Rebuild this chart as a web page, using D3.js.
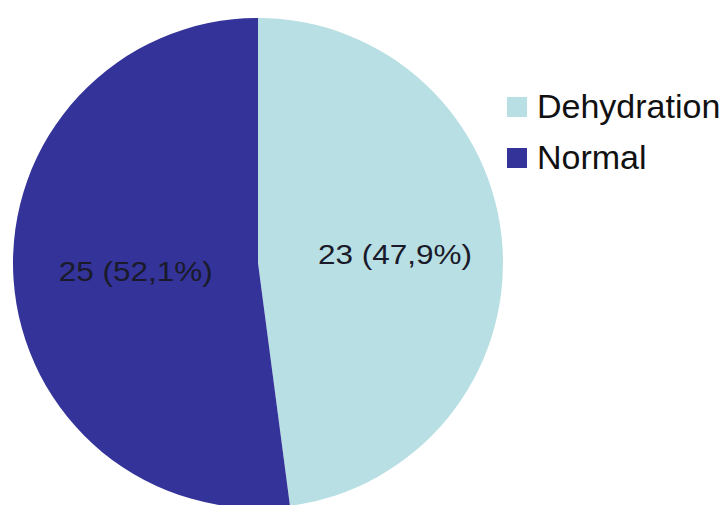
<!DOCTYPE html>
<html><head><meta charset="utf-8">
<script src="https://cdn.jsdelivr.net/npm/d3@7"></script>
<style>body{margin:0;background:#fff;}svg{display:block;}</style>
</head><body>
<svg id="c" width="728" height="505"></svg>
<script>
const categories = ["Dehydration", "Normal"];
const values = [23, 25];
const labels = ["23 (47,9%)", "25 (52,1%)"];
const colors = ["#B8DFE3", "#333399"];

const svg = d3.select("#c");
const cx = 258, cy = 263, r = 245;
const pie = d3.pie().sort(null).value(d => d)(values);
const arc = d3.arc().innerRadius(0).outerRadius(r);
const g = svg.append("g").attr("transform", `translate(${cx},${cy})`);
g.selectAll("path").data(pie).join("path")
  .attr("d", arc).attr("fill", (d, i) => colors[i]);

const labelRad = [0.56, 0.5];
g.selectAll("text").data(pie).join("text")
  .attr("transform", (d, i) => {
    const a = d3.arc().innerRadius(r * labelRad[i]).outerRadius(r * labelRad[i]);
    const c = a.centroid(d); return `translate(${c[0]},${c[1]})`; })
  .attr("text-anchor", "middle").attr("dy", "0.35em")
  .attr("textLength", 154).attr("lengthAdjust", "spacingAndGlyphs")
  .style("font-family", "Liberation Sans, Arial, sans-serif").style("font-size", "28px").attr("fill", "#1a1a2a")
  .text((d, i) => labels[i]);

const leg = svg.append("g").attr("transform", "translate(507,97)");
const item = leg.selectAll("g").data(categories).join("g")
  .attr("transform", (d, i) => `translate(0,${i * 51})`);
item.append("rect").attr("width", 20).attr("height", 20).attr("fill", (d, i) => colors[i]);
item.append("text").attr("x", 30).attr("y", 21)
  .style("font-family", "Liberation Sans, Arial, sans-serif").style("font-size", "34px").attr("fill", "#111")
  .text(d => d);
</script>
</body></html>
